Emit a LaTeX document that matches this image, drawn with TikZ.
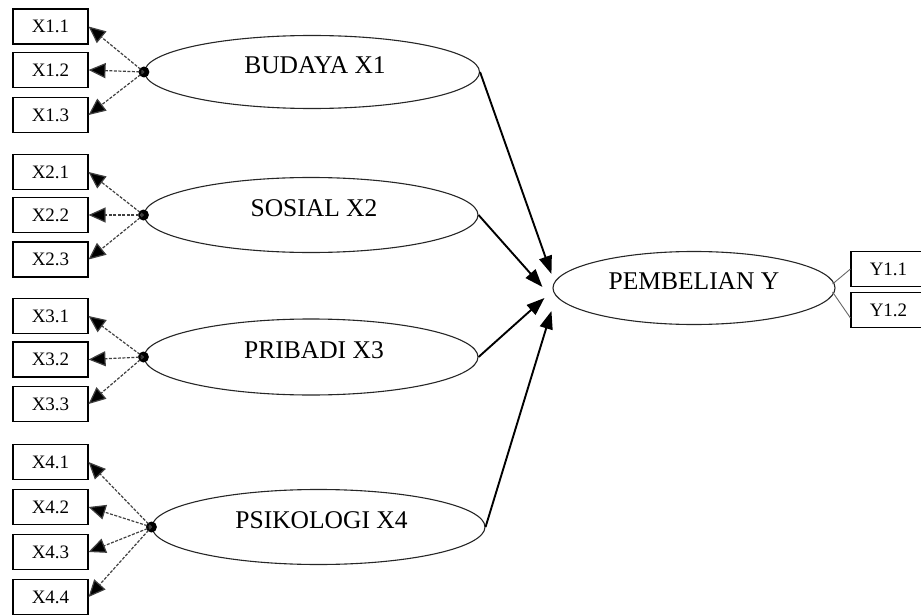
\documentclass[tikz,border=0pt]{standalone}
\usepackage{fontspec}
\setmainfont{Liberation Serif}
\usetikzlibrary{arrows.meta,shapes.geometric}
\begin{document}
\begin{tikzpicture}[x=1pt,y=-1pt,
  indbox/.style={draw=black,line width=1.1pt,minimum width=75pt,minimum height=35pt,inner sep=0pt,font=\fontsize{19}{19}\selectfont},
  latent/.style={draw=black!85,line width=1.1pt,ellipse,inner sep=0pt},
  lbl/.style={font=\fontsize{25.5}{25.5}\selectfont,inner sep=0pt},
  hub/.style={circle,fill=black,inner sep=0pt,minimum size=11pt},
  loadarrow/.style={draw=black!75,line width=1.2pt,dash pattern=on 3pt off 1.5pt,-{Triangle[length=17pt,width=15pt,fill=black]}},
  patharrow/.style={draw=black,line width=1.9pt,-{Triangle[length=18pt,width=13pt]}},
  yline/.style={draw=black!60,line width=0.9pt}]
\useasboundingbox (0,0) rectangle (921,615);
% indicator boxes
\node[indbox] (x11) at (50.5,26.5) {X1.1};
\node[indbox] (x12) at (50.5,70) {X1.2};
\node[indbox] (x13) at (50.5,115) {X1.3};
\node[indbox] (x21) at (50.5,172) {X2.1};
\node[indbox] (x22) at (50.5,215) {X2.2};
\node[indbox] (x23) at (50.5,259.5) {X2.3};
\node[indbox] (x31) at (50.5,316) {X3.1};
\node[indbox] (x32) at (50.5,359.5) {X3.2};
\node[indbox] (x33) at (50.5,404) {X3.3};
\node[indbox] (x41) at (50.5,462) {X4.1};
\node[indbox] (x42) at (50.5,507) {X4.2};
\node[indbox] (x43) at (50.5,552) {X4.3};
\node[indbox] (x44) at (50.5,597) {X4.4};
\node[indbox] (y11) at (888.5,269) {Y1.1};
\node[indbox] (y12) at (888.5,310) {Y1.2};
% latent ellipses
\node[latent,minimum width=335pt,minimum height=73pt] (e1) at (312,72) {};
\node[latent,minimum width=334pt,minimum height=75pt] (e2) at (311,215) {};
\node[latent,minimum width=334pt,minimum height=76pt] (e3) at (311,357) {};
\node[latent,minimum width=333pt,minimum height=75pt] (e4) at (318.5,527) {};
\node[latent,minimum width=282pt,minimum height=73pt] (ey) at (694,288) {};
\node[lbl] (l1) at ([xshift=3pt,yshift=7pt]e1.center) {BUDAYA X1};
\node[lbl] (l2) at ([xshift=3pt,yshift=7pt]e2.center) {SOSIAL X2};
\node[lbl] (l3) at ([xshift=3pt,yshift=7pt]e3.center) {PRIBADI X3};
\node[lbl] (l4) at ([xshift=3pt,yshift=7pt]e4.center) {PSIKOLOGI X4};
\node[lbl] (ly) at ([yshift=7pt]ey.center) {PEMBELIAN Y};
% hubs
\node[hub] (d1) at (e1.west) {};
\node[hub] (d2) at (e2.west) {};
\node[hub] (d3) at (e3.west) {};
\node[hub] (d4) at (e4.west) {};
% loading arrows
\foreach \d/\b in {d1/x11,d1/x12,d1/x13,d2/x21,d2/x22,d2/x23,d3/x31,d3/x32,d3/x33,d4/x41,d4/x42,d4/x43,d4/x44}
  \draw[loadarrow] (\d.center) -- (\b.east);
% structural arrows
\coordinate (t1) at ([xshift=-1pt,yshift=14pt]ey.west);
\coordinate (t2) at ([xshift=-10pt,yshift=1pt]ey.west);
\coordinate (t3) at ([xshift=-8pt,yshift=-10pt]ey.west);
\coordinate (t4) at ([xshift=-1pt,yshift=-23pt]ey.west);
\draw[patharrow] (e1.east) -- (t1);
\draw[patharrow] (e2.east) -- (t2);
\draw[patharrow] (e3.east) -- (t3);
\draw[patharrow] (e4.east) -- (t4);
% Y lines
\draw[yline] ([xshift=-3pt,yshift=4pt]ey.east) -- (y11.west);
\draw[yline] ([xshift=-3pt,yshift=-4pt]ey.east) -- ([yshift=-8pt]y12.west);
\end{tikzpicture}
\end{document}
